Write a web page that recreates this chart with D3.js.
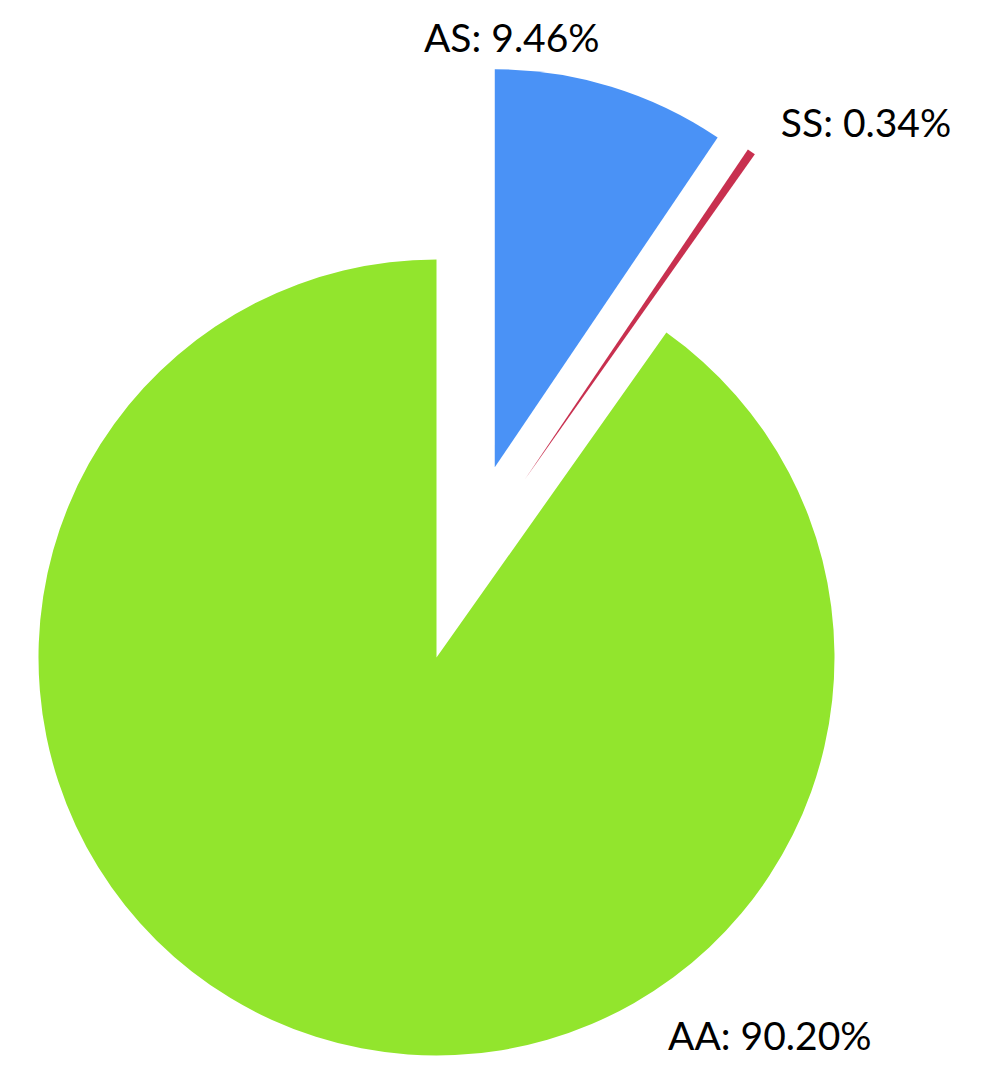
<!DOCTYPE html>
<html>
<head>
<meta charset="utf-8">
<script src="https://cdn.jsdelivr.net/npm/d3@7"></script>
<style>
  html, body { margin: 0; padding: 0; background: #ffffff; }
  svg { display: block; }
</style>
</head>
<body>
<svg id="chart" width="989" height="1078"></svg>
<script>
// ---- data ----
const categories = ["AS", "SS", "AA"];
const values = [9.46, 0.34, 90.20];
const labels = ["AS: 9.46%", "SS: 0.34%", "AA: 90.20%"];
const colors = ["#4a92f6", "#c8304f", "#92e52d"];

// ---- layout ----
const width = 989, height = 1078;
const cx = 436.5, cy = 657.5, radius = 398;
const explodeFrac = [0.5, 0.5, 0];          // fraction of radius
const explodeDirDeg = [null, 26.4, null];   // null -> along the slice mid-angle
// label anchor: angle on slice outer arc (deg) + pixel nudge
const labelAngleDeg = [0, 35.28, 146];
const labelNudge = [[17, -17], [26, -17], [9, 63]];
const labelAnchor = ["middle", "start", "start"];

const data = categories.map((c, i) => ({ cat: c, value: values[i], label: labels[i], color: colors[i], i }));

const pie = d3.pie().sort(null).value(d => d.value).startAngle(0).endAngle(2 * Math.PI);
const arcs = pie(data);
const arc = d3.arc().innerRadius(0).outerRadius(radius);

const svg = d3.select("#chart");
const g = svg.append("g").attr("transform", `translate(${cx},${cy})`);

function offsetOf(d) {
  const i = d.data.i;
  const dir = explodeDirDeg[i] == null ? (d.startAngle + d.endAngle) / 2 : explodeDirDeg[i] * Math.PI / 180;
  const dist = explodeFrac[i] * radius;
  return [dist * Math.sin(dir), -dist * Math.cos(dir)];
}

g.selectAll("path.slice")
  .data(arcs)
  .join("path")
  .attr("class", "slice")
  .attr("d", arc)
  .attr("fill", d => d.data.color)
  .attr("transform", d => { const o = offsetOf(d); return `translate(${o[0]},${o[1]})`; });

g.selectAll("text.lbl")
  .data(arcs)
  .join("text")
  .attr("class", "lbl")
  .attr("x", d => {
    const o = offsetOf(d), a = labelAngleDeg[d.data.i] * Math.PI / 180;
    return o[0] + radius * Math.sin(a) + labelNudge[d.data.i][0];
  })
  .attr("y", d => {
    const o = offsetOf(d), a = labelAngleDeg[d.data.i] * Math.PI / 180;
    return o[1] - radius * Math.cos(a) + labelNudge[d.data.i][1];
  })
  .attr("text-anchor", d => labelAnchor[d.data.i])
  .attr("font-family", "Lato, 'Open Sans', sans-serif")
  .attr("font-size", 39)
  .attr("fill", "#000")
  .text(d => d.data.label);
</script>
</body>
</html>
